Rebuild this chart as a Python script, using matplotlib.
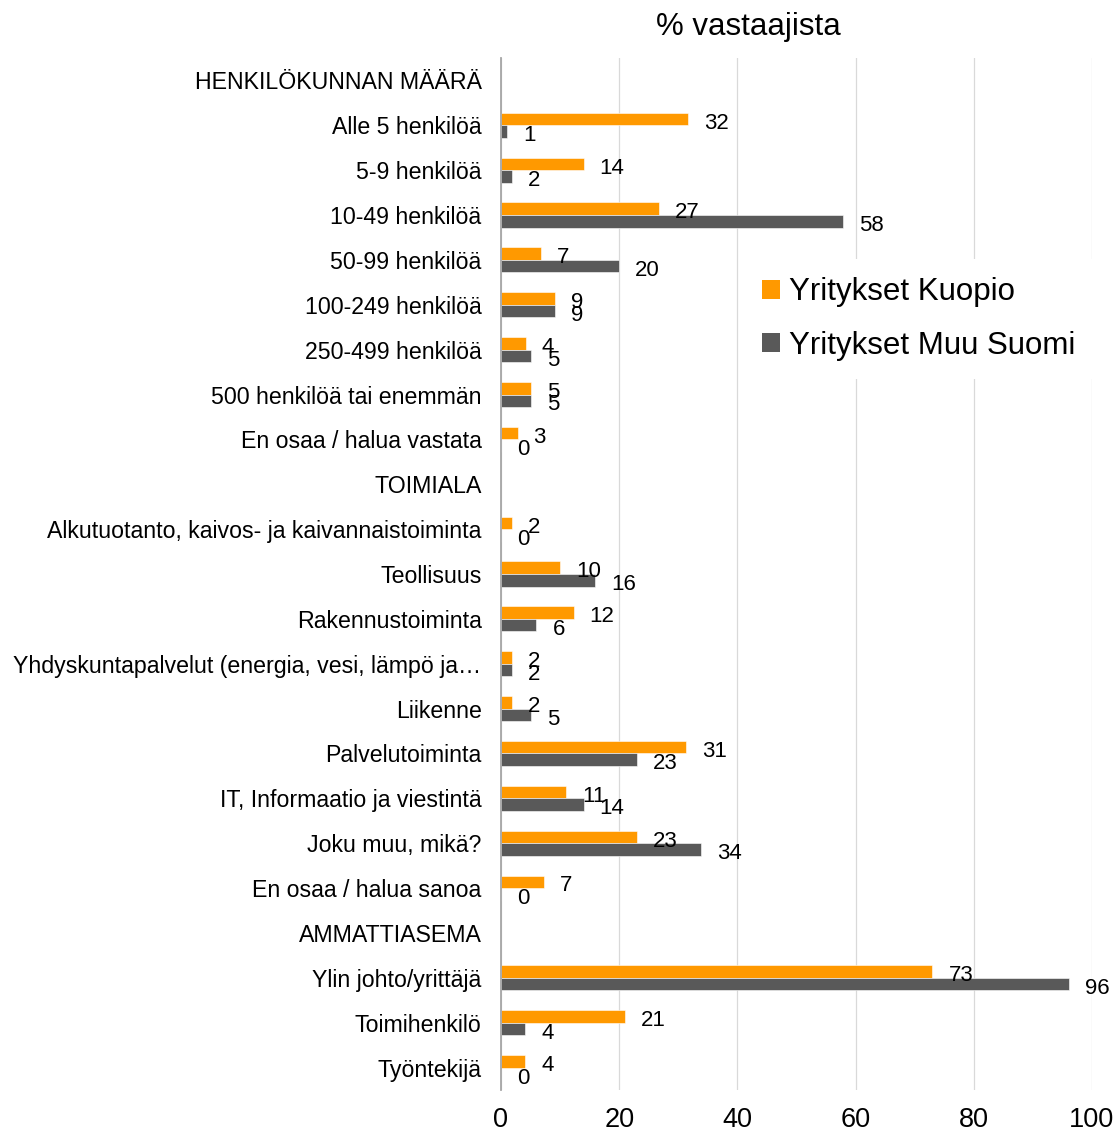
import numpy as np
import matplotlib
matplotlib.use('Agg')
import matplotlib.pyplot as plt
from matplotlib.patches import Patch

plt.rcParams['font.family'] = ['Liberation Sans', 'DejaVu Sans']

categories = [
    'HENKILÖKUNNAN MÄÄRÄ',
    'Alle 5 henkilöä',
    '5-9 henkilöä',
    '10-49 henkilöä',
    '50-99 henkilöä',
    '100-249 henkilöä',
    '250-499 henkilöä',
    '500 henkilöä tai enemmän',
    'En osaa / halua vastata',
    'TOIMIALA',
    'Alkutuotanto, kaivos- ja kaivannaistoiminta',
    'Teollisuus',
    'Rakennustoiminta',
    'Yhdyskuntapalvelut (energia, vesi, lämpö ja…',
    'Liikenne',
    'Palvelutoiminta',
    'IT, Informaatio ja viestintä',
    'Joku muu, mikä?',
    'En osaa / halua sanoa',
    'AMMATTIASEMA',
    'Ylin johto/yrittäjä',
    'Toimihenkilö',
    'Työntekijä',
]

nan = np.nan
kuopio = [nan, 31.7, 14.0, 26.7, 6.8, 9.2, 4.2, 5.1, 2.8,
          nan, 1.9, 10.0, 12.3, 1.9, 1.9, 31.3, 11.0, 23.0, 7.3,
          nan, 73.0, 20.9, 4.1]
muu_suomi = [nan, 1.0, 1.9, 57.9, 20.0, 9.2, 5.1, 5.1, 0.0,
             nan, 0.0, 15.9, 6.0, 1.9, 5.1, 23.0, 14.0, 33.8, 0.0,
             nan, 96.1, 4.1, 0.0]

series_names = ['Yritykset Kuopio', 'Yritykset Muu Suomi']
colors = ['#FF9900', '#595959']
xticks = [0, 20, 40, 60, 80, 100]

fig = plt.figure(figsize=(11.15, 11.33), dpi=100)
ax = fig.add_axes([501 / 1115, 1 - 1090 / 1133, (1092 - 501) / 1115, (1090 - 58) / 1133])

y = np.arange(len(categories))
h = 0.28
for vals, off, col in [(kuopio, -h / 2, colors[0]), (muu_suomi, h / 2, colors[1])]:
    vals = np.array(vals, dtype=float)
    ok = ~np.isnan(vals)
    ax.barh(y[ok] + off, vals[ok], height=h, color=col, zorder=3,
            edgecolor='white', linewidth=0.4)
    for yy, v in zip(y[ok], vals[ok]):
        ax.annotate(f'{v:.0f}', (v, yy + off), xytext=(11.5, -3),
                    textcoords='offset points', ha='left', va='center',
                    fontsize=16, color='black', zorder=5)

ax.set_xlim(0, 100)
ax.set_ylim(len(categories) - 0.5, -0.5)
ax.set_xticks(xticks)
ax.set_yticks(y)
ax.set_yticklabels(categories, fontsize=16.7)
ax.tick_params(axis='y', length=0, pad=14)
ax.tick_params(axis='x', length=0, pad=12, labelsize=19.5)
ax.xaxis.grid(True, color='#D9D9D9', linewidth=0.9, zorder=0)
for s in ['top', 'right', 'bottom']:
    ax.spines[s].set_visible(False)
ax.spines['left'].set_color('#A6A6A6')
ax.spines['left'].set_linewidth(1.3)
ax.spines['left'].set_zorder(4)

fig.text(748 / 1115, 1 - 27 / 1133, '% vastaajista', ha='center', va='center', fontsize=22.5)

handles = [Patch(facecolor=c, edgecolor='none') for c in colors]
leg = fig.legend(handles, series_names, loc='center left',
                 bbox_to_anchor=(728 / 1115, 1 - 319 / 1133), fontsize=22.5,
                 frameon=True, facecolor='white', edgecolor='none', framealpha=1,
                 handlelength=0.55, handleheight=0.55, handletextpad=0.3,
                 labelspacing=0.75, borderpad=0.6, fancybox=False)
leg.set_zorder(10)

fig.savefig('out.png', dpi=100)
